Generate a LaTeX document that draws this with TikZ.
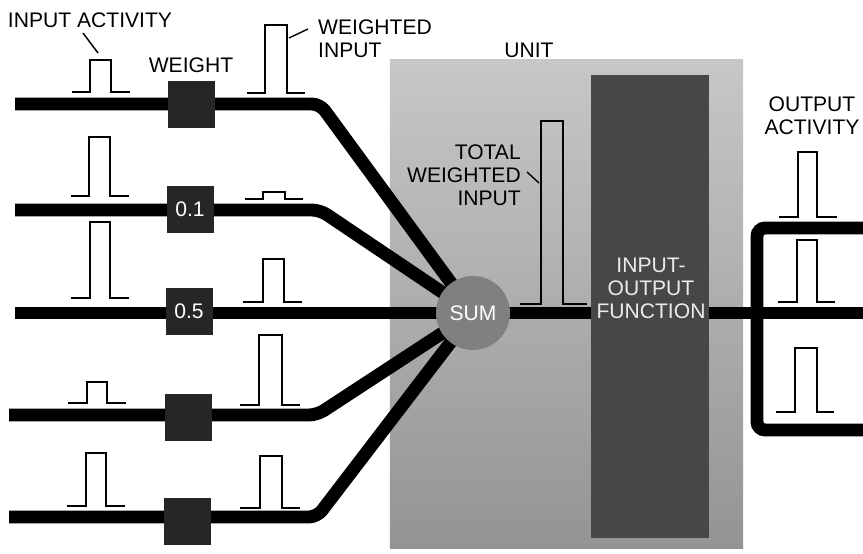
\documentclass[tikz,border=0pt]{standalone}
\usepackage{fontspec}
\setmainfont{Liberation Sans}
\usepackage{tikz}
\usetikzlibrary{positioning,calc}

\pgfdeclarelayer{background}
\pgfdeclarelayer{wires}
\pgfsetlayers{background,wires,main}

\tikzset{
  lbl/.style={font=\fontsize{18}{19.5}\selectfont, inner sep=0pt},
  wire/.style={line width=11pt, rounded corners=7pt},
  pulse/.style={line width=1.6pt},
  leader/.style={line width=1.2pt},
  wbox/.style={fill=black!85, minimum size=1.41cm, inner sep=0pt, text=white, font=\fontsize{18}{19.5}\selectfont},
}

\begin{document}
\begin{tikzpicture}[x=0.03cm, y=-0.03cm]
\useasboundingbox (0,0) rectangle (863,553);

% Unit with its input-output function
\begin{pgfonlayer}{background}
\node[top color=black!22, bottom color=black!42, minimum width=10.59cm, minimum height=14.64cm, inner sep=0pt] (unit) at (566.5,304) {};
\end{pgfonlayer}
\node[fill=black!72, minimum width=3.54cm, minimum height=13.89cm, inner sep=0pt] (fn) at (650,306.5) {};
\node[lbl, text=black!8, align=center] (fnlbl) at (651,288) {INPUT-\\OUTPUT\\FUNCTION};
\node[lbl] (unitlbl) at (529,50) {UNIT};

% Weights
\node[wbox] (w1) at (191,104) {};
\node[wbox] (w2) at (190,209) {0.1};
\node[wbox] (w3) at (189,311) {0.5};
\node[wbox] (w4) at (188,417) {};
\node[wbox] (w5) at (187,521) {};

% Summation
\node[circle, fill=black!50, minimum size=2.22cm, lbl, text=white] (sum) at (473,313) {SUM};

% Wire ends and bends
\coordinate (in1) at (15,104);
\coordinate (in2) at (15,210);
\coordinate (in3) at (15,313);
\coordinate (in4) at (9,415);
\coordinate (in5) at (9,517);
\coordinate (b1) at (320,104);
\coordinate (b2) at (320,210);
\coordinate (b4) at (317,415);
\coordinate (b5) at (317,517);
\coordinate (split) at (757,313);
\coordinate (out1) at (870,228);
\coordinate (out2) at (870,313);
\coordinate (out3) at (870,430);

\begin{pgfonlayer}{wires}
\draw[wire] (in1) -- (b1) -- (sum.center);
\draw[wire] (in2) -- (b2) -- (sum.center);
\draw[wire] (in3) -- (split);
\draw[wire] (in4) -- (b4) -- (sum.center);
\draw[wire] (in5) -- (b5) -- (sum.center);
\draw[wire] (split) -- (out2);
\draw[wire] (out1) -| (split) |- (out3);
\end{pgfonlayer}

% Input activity
\draw[pulse] (72,92) -- ++(18,0) -- ++(0,-32) -- ++(21,0) -- ++(0,32) -- ++(19,0);
\draw[pulse] (71,196) -- ++(18,0) -- ++(0,-59) -- ++(21,0) -- ++(0,59) -- ++(19,0);
\draw[pulse] (71,298) -- ++(19,0) -- ++(0,-76) -- ++(20,0) -- ++(0,76) -- ++(19,0);
\draw[pulse] (68,403) -- ++(19,0) -- ++(0,-21) -- ++(20,0) -- ++(0,21) -- ++(19,0);
\draw[pulse] (67,506) -- ++(19,0) -- ++(0,-53) -- ++(20,0) -- ++(0,53) -- ++(19,0);

% Weighted input
\draw[pulse] (247,93) -- ++(18,0) -- ++(0,-68) -- ++(22,0) -- ++(0,68) -- ++(18,0);
\draw[pulse] (245,199) -- ++(18,0) -- ++(0,-7) -- ++(22,0) -- ++(0,7) -- ++(18,0);
\draw[pulse] (243,302) -- ++(20,0) -- ++(0,-43) -- ++(21,0) -- ++(0,43) -- ++(18,0);
\draw[pulse] (240,405) -- ++(19,0) -- ++(0,-70) -- ++(23,0) -- ++(0,70) -- ++(18,0);
\draw[pulse] (240,508) -- ++(20,0) -- ++(0,-52) -- ++(22,0) -- ++(0,52) -- ++(18,0);

% Total weighted input
\draw[pulse] (520,304) -- ++(21,0) -- ++(0,-183) -- ++(22,0) -- ++(0,183) -- ++(24,0);

% Output activity
\draw[pulse] (779,217) -- ++(19,0) -- ++(0,-65) -- ++(19,0) -- ++(0,65) -- ++(20,0);
\draw[pulse] (778,302) -- ++(19,0) -- ++(0,-62) -- ++(20,0) -- ++(0,62) -- ++(18,0);
\draw[pulse] (776,412) -- ++(19,0) -- ++(0,-64) -- ++(22,0) -- ++(0,64) -- ++(17,0);

% Labels
\node[lbl] (inact) at (90,20) {INPUT ACTIVITY};
\node[lbl] (wlbl) at (191,65) {WEIGHT};
\node[lbl, anchor=west, align=left] (winlbl) at (318,39) {WEIGHTED\\INPUT};
\node[lbl, anchor=east, align=right] (totlbl) at (521,175) {TOTAL\\WEIGHTED\\INPUT};
\node[lbl, align=center] (outlbl) at (812,116) {OUTPUT\\ACTIVITY};

\draw[leader] ($(inact)+(-7,13)$) -- ($(inact)+(8,33)$);
\draw[leader] ($(winlbl.west)+(-29,-1)$) -- ($(winlbl.west)+(-10,-10)$);
\draw[leader] ($(totlbl.east)+(6,-3)$) -- ($(totlbl.east)+(18,8)$);
\end{tikzpicture}
\end{document}
